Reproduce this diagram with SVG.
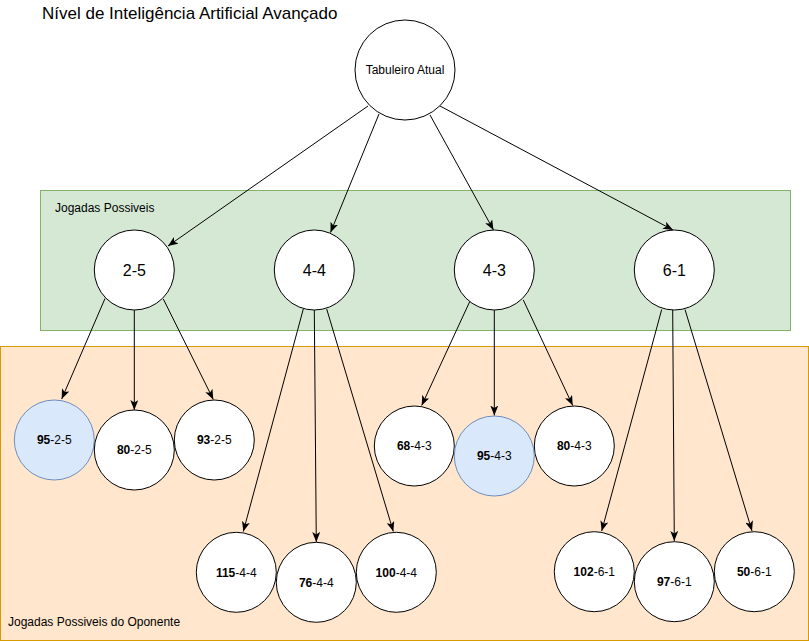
<svg xmlns="http://www.w3.org/2000/svg" width="809" height="641" viewBox="0 0 809 641">
<defs>
<marker id="arr" viewBox="0 0 10 8" refX="10" refY="4" markerWidth="10" markerHeight="8" markerUnits="userSpaceOnUse" orient="auto">
<path d="M0,0 L10,4 L0,8 L2.5,4 Z" fill="#000"/>
</marker>
<style>
text{font-family:"Liberation Sans",Arial,sans-serif;fill:#000}
.node{fill:#fff;stroke:#000;stroke-width:1}
.sel{fill:#dae8fc;stroke:#6c8ebf;stroke-width:1}
.s12{font-size:12px}
.s16{font-size:16px}
.b{font-weight:bold}
.edge{stroke:#000;stroke-width:1;fill:none;marker-end:url(#arr)}
</style>
</defs>
<rect width="809" height="641" fill="#fff"/>
<g id="title"><text x="42" y="18.5" style="font-size:17px">Nível de Inteligência Artificial Avançado</text></g>
<g id="group-oponente">
<rect x="0.5" y="346.5" width="808" height="294" fill="#ffe6cc" stroke="#d79b00"/>
<text x="8" y="626" class="s12">Jogadas Possiveis do Oponente</text>
</g>
<g id="group-possiveis">
<rect x="40.5" y="190.5" width="750" height="140" fill="#d5e8d4" stroke="#82b366"/>
<text x="55" y="212" class="s12">Jogadas Possiveis</text>
</g>
<g id="connectors">
<line class="edge" x1="368" y1="106" x2="168" y2="246"/>
<line class="edge" x1="379" y1="114" x2="330.5" y2="232.5"/>
<line class="edge" x1="430" y1="115" x2="493.5" y2="230"/>
<line class="edge" x1="440" y1="106" x2="673" y2="230"/>
<line class="edge" x1="105" y1="298.5" x2="61.7" y2="399"/>
<line class="edge" x1="134.3" y1="310" x2="134.3" y2="410"/>
<line class="edge" x1="163.3" y1="299" x2="213.3" y2="399.5"/>
<line class="edge" x1="303.3" y1="309" x2="243.3" y2="531.5"/>
<line class="edge" x1="314.3" y1="310" x2="316.3" y2="542"/>
<line class="edge" x1="326.7" y1="309" x2="393.3" y2="531.5"/>
<line class="edge" x1="470" y1="301" x2="421.7" y2="405.5"/>
<line class="edge" x1="494.3" y1="310" x2="494.3" y2="415.5"/>
<line class="edge" x1="523.3" y1="300" x2="572.7" y2="405.5"/>
<line class="edge" x1="661.7" y1="309.5" x2="601.7" y2="531"/>
<line class="edge" x1="672.7" y1="310" x2="674.3" y2="541"/>
<line class="edge" x1="685" y1="309.5" x2="752" y2="531"/>
</g>
<g id="n-tabuleiro"><circle class="node" cx="405" cy="70" r="50"/><text x="405" y="74.2" class="s12" text-anchor="middle">Tabuleiro Atual</text></g>
<g id="n-2-5"><circle class="node" cx="134.3" cy="270" r="40"/><text x="134.3" y="275.7" class="s16" text-anchor="middle">2-5</text></g>
<g id="n-4-4"><circle class="node" cx="314.3" cy="270" r="40"/><text x="314.3" y="275.7" class="s16" text-anchor="middle">4-4</text></g>
<g id="n-4-3"><circle class="node" cx="494.3" cy="270" r="40"/><text x="494.3" y="275.7" class="s16" text-anchor="middle">4-3</text></g>
<g id="n-6-1"><circle class="node" cx="674.3" cy="270" r="40"/><text x="674.3" y="275.7" class="s16" text-anchor="middle">6-1</text></g>
<g id="n-95-2-5"><circle class="sel" cx="54.3" cy="440" r="40"/><text x="54.3" y="444.2" class="s12" text-anchor="middle"><tspan class="b">95</tspan>-2-5</text></g>
<g id="n-93-2-5"><circle class="node" cx="214.3" cy="440" r="40"/><text x="214.3" y="444.2" class="s12" text-anchor="middle"><tspan class="b">93</tspan>-2-5</text></g>
<g id="n-80-2-5"><circle class="node" cx="134.3" cy="450" r="40"/><text x="134.3" y="454.2" class="s12" text-anchor="middle"><tspan class="b">80</tspan>-2-5</text></g>
<g id="n-115-4-4"><circle class="node" cx="236.3" cy="572.3" r="40"/><text x="236.3" y="576.5" class="s12" text-anchor="middle"><tspan class="b">115</tspan>-4-4</text></g>
<g id="n-100-4-4"><circle class="node" cx="396.3" cy="572.3" r="40"/><text x="396.3" y="576.5" class="s12" text-anchor="middle"><tspan class="b">100</tspan>-4-4</text></g>
<g id="n-76-4-4"><circle class="node" cx="316.3" cy="582.3" r="40"/><text x="316.3" y="586.5" class="s12" text-anchor="middle"><tspan class="b">76</tspan>-4-4</text></g>
<g id="n-68-4-3"><circle class="node" cx="414.3" cy="446" r="40"/><text x="414.3" y="450.2" class="s12" text-anchor="middle"><tspan class="b">68</tspan>-4-3</text></g>
<g id="n-80-4-3"><circle class="node" cx="574.3" cy="446" r="40"/><text x="574.3" y="450.2" class="s12" text-anchor="middle"><tspan class="b">80</tspan>-4-3</text></g>
<g id="n-95-4-3"><circle class="sel" cx="494.3" cy="456" r="40"/><text x="494.3" y="460.2" class="s12" text-anchor="middle"><tspan class="b">95</tspan>-4-3</text></g>
<g id="n-102-6-1"><circle class="node" cx="594.3" cy="571.7" r="40"/><text x="594.3" y="575.9" class="s12" text-anchor="middle"><tspan class="b">102</tspan>-6-1</text></g>
<g id="n-50-6-1"><circle class="node" cx="754.3" cy="571.7" r="40"/><text x="754.3" y="575.9" class="s12" text-anchor="middle"><tspan class="b">50</tspan>-6-1</text></g>
<g id="n-97-6-1"><circle class="node" cx="674.3" cy="581.7" r="40"/><text x="674.3" y="585.9" class="s12" text-anchor="middle"><tspan class="b">97</tspan>-6-1</text></g>
</svg>
